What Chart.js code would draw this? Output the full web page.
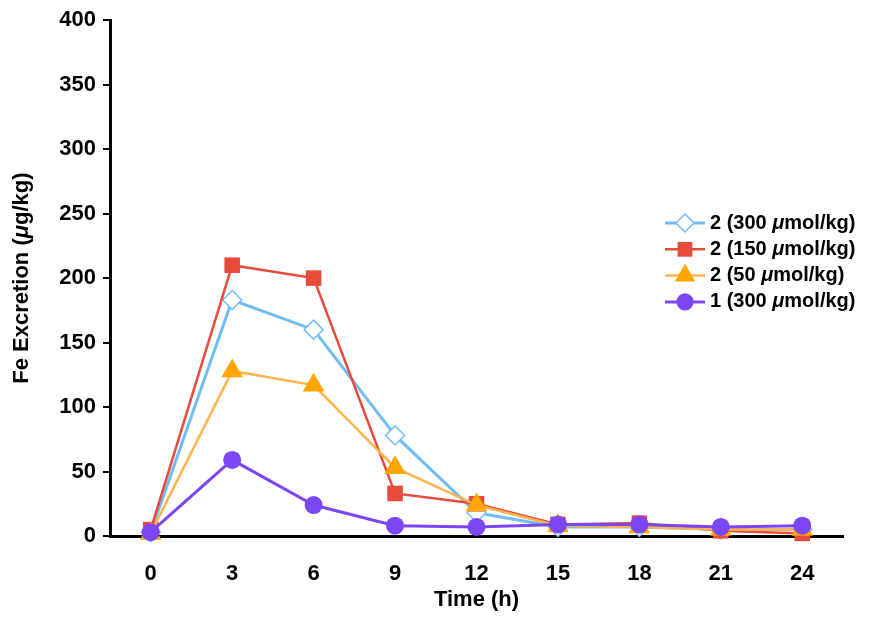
<!DOCTYPE html>
<html>
<head>
<meta charset="utf-8">
<script src="https://cdn.jsdelivr.net/npm/chart.js@4/dist/chart.umd.min.js"></script>
<style>
  html, body { margin: 0; padding: 0; background: #fff; }
  #wrap { width: 870px; height: 618px; }
</style>
</head>
<body>
<div id="wrap"><canvas id="feChart" width="870" height="618"></canvas></div>
<script>
// time points (h)
const hours = ["0", "3", "6", "9", "12", "15", "18", "21", "24"];

// Fe excretion values (ug/kg)
const cmpd2_300 = [3, 183, 160, 78, 18, 7, 7, 5, 5];
const cmpd2_150 = [5, 210, 200, 33, 25, 9, 10, 4, 2];
const cmpd2_50 = [2, 128, 117, 53, 24, 8, 7, 5, 5];
const cmpd1_300 = [3, 59, 24, 8, 7, 9, 9, 7, 8];

const seriesNames = [
    [["2 (300 ", false], ["\u03bc", true], ["mol/kg)", false]],
    [["2 (150 ", false], ["\u03bc", true], ["mol/kg)", false]],
    [["2 (50 ", false], ["\u03bc", true], ["mol/kg)", false]],
    [["1 (300 ", false], ["\u03bc", true], ["mol/kg)", false]]
];

const FONT = "'Liberation Sans', Arial, Helvetica, sans-serif";

const datasets = [
    {
        data: cmpd2_300,
        borderColor: "#70bdf6",
        borderWidth: 3,
        pointStyle: "rectRot",
        pointRadius: 9.5,
        pointBackgroundColor: "#ffffff",
        pointBorderColor: "#70bdf6",
        pointBorderWidth: 1.5,
        order: 4
    },
    {
        data: cmpd2_150,
        borderColor: "#e84a3b",
        borderWidth: 2.5,
        pointStyle: "rect",
        pointRadius: 11,
        pointBackgroundColor: "#e84a3b",
        pointBorderColor: "#e84a3b",
        pointBorderWidth: 0,
        order: 3
    },
    {
        data: cmpd2_50,
        borderColor: "#ffb24d",
        borderWidth: 2.5,
        pointStyle: "triangle",
        pointRadius: 12.5,
        pointBackgroundColor: "#ffa600",
        pointBorderColor: "#ffa600",
        pointBorderWidth: 0,
        order: 2
    },
    {
        data: cmpd1_300,
        borderColor: "#7b46f3",
        borderWidth: 3,
        pointStyle: "circle",
        pointRadius: 9,
        pointBackgroundColor: "#7b46f3",
        pointBorderColor: "#7b46f3",
        pointBorderWidth: 0,
        order: 1
    }
];
datasets.forEach(d => { d.tension = 0; d.clip = false; d.fill = false; });

// draws a run of text pieces, some italic
function drawRich(ctx, parts, x, y, size, align) {
    let total = 0;
    parts.forEach(p => {
        ctx.font = (p[1] ? "italic " : "") + "bold " + size + "px " + FONT;
        total += ctx.measureText(p[0]).width;
    });
    let cx = align === "center" ? x - total / 2 : x;
    ctx.textBaseline = "middle";
    ctx.textAlign = "left";
    parts.forEach(p => {
        ctx.font = (p[1] ? "italic " : "") + "bold " + size + "px " + FONT;
        ctx.fillText(p[0], cx, y);
        cx += ctx.measureText(p[0]).width;
    });
}

const richText = {
    id: "richText",
    afterDraw(chart) {
        const ctx = chart.ctx;
        const area = chart.chartArea;
        ctx.save();
        ctx.fillStyle = "#000";

        // axis titles
        drawRich(ctx, [["Time (h)", false]], (area.left + area.right) / 2, 600, 22, "center");
        ctx.save();
        ctx.translate(22, (area.top + area.bottom) / 2);
        ctx.rotate(-Math.PI / 2);
        drawRich(ctx, [["Fe Excretion (", false], ["\u03bc", true], ["g/kg)", false]], 0, 0, 22, "center");
        ctx.restore();

        // legend
        const lx = 665, ly = 223, gap = 26.3;
        datasets.forEach((ds, i) => {
            const y = ly + i * gap;
            ctx.strokeStyle = ds.borderColor;
            ctx.lineWidth = ds.borderWidth;
            ctx.beginPath();
            ctx.moveTo(lx, y);
            ctx.lineTo(lx + 40, y);
            ctx.stroke();
            ctx.fillStyle = ds.pointBackgroundColor;
            ctx.strokeStyle = ds.pointBorderColor;
            ctx.lineWidth = ds.pointBorderWidth;
            Chart.helpers.drawPoint(ctx, {
                pointStyle: ds.pointStyle,
                radius: ds.pointRadius * 0.95,
                rotation: 0,
                borderWidth: ds.pointBorderWidth
            }, lx + 20, y);
            ctx.fillStyle = "#000";
            drawRich(ctx, seriesNames[i], lx + 45, y, 20, "left");
        });
        ctx.restore();
    }
};

new Chart(document.getElementById("feChart"), {
    type: "line",
    data: { labels: hours, datasets: datasets },
    options: {
        responsive: false,
        animation: false,
        layout: { padding: { top: 20, right: 27, left: 0, bottom: 0 } },
        plugins: {
            legend: { display: false },
            tooltip: { enabled: false }
        },
        scales: {
            x: {
                offset: true,
                grid: { display: false },
                border: { color: "#000", width: 3 },
                ticks: {
                    color: "#000",
                    padding: 17,
                    font: { family: FONT, size: 22, weight: "bold" }
                },
                afterFit(scale) { scale.height = 82; }
            },
            y: {
                min: 0,
                max: 400,
                grid: {
                    drawOnChartArea: false,
                    color: "#000",
                    lineWidth: 2,
                    tickLength: 7
                },
                border: { color: "#000", width: 3 },
                ticks: {
                    stepSize: 50,
                    color: "#000",
                    padding: 7,
                    font: { family: FONT, size: 22, weight: "bold" }
                },
                afterFit(scale) { scale.width = 110; }
            }
        }
    },
    plugins: [richText]
});
</script>
</body>
</html>
